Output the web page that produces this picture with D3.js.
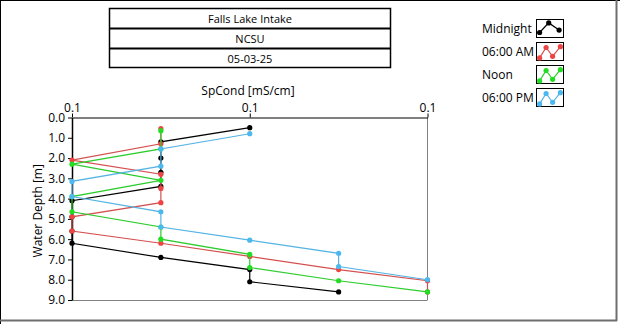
<!DOCTYPE html>
<html>
<head>
<meta charset="utf-8">
<script src="https://cdn.jsdelivr.net/npm/d3@7"></script>
<style>
  html, body { margin: 0; padding: 0; background: #fff; }
  svg { display: block; }
  text { font-family: "Open Sans", "Noto Sans", sans-serif; font-size: 11px; fill: #000; }
  .tick text { font-size: 12px; }
  .axis-title { font-size: 12px; }
</style>
</head>
<body>
<svg id="chart" width="620" height="324"></svg>
<script>
// Header lines
const headerLines = ["Falls Lake Intake", "NCSU", "05-03-25"];

// Axis settings and ticks (mS/cm, m)
const xDomain = [0.100, 0.104];
const xTicks = [0.100, 0.102, 0.104];
const yDomain = [0, 9];
const yTicks = [0, 1, 2, 3, 4, 5, 6, 7, 8, 9];

// Profiles: specific conductance and depth for each sampling time
const seriesNames = ["Midnight", "06:00 AM", "Noon", "06:00 PM"];
const seriesColors = ["#000000", "#d45050", "#2ccc2c", "#55b4e4"];
const markerColors = ["#000000", "#ee4444", "#22dd22", "#4cb8f0"];

const midnightCond = [0.102, 0.101, 0.101, 0.101, 0.101, 0.100, 0.100, 0.100, 0.100, 0.101, 0.102, 0.102, 0.103];
const midnightDepth = [0.5, 1.2, 2.0, 2.7, 3.4, 4.1, 4.9, 5.6, 6.2, 6.9, 7.5, 8.1, 8.6];

const amCond = [0.101, 0.101, 0.100, 0.101, 0.101, 0.101, 0.100, 0.100, 0.101, 0.102, 0.103, 0.104, 0.104];
const amDepth = [0.55, 1.3, 2.1, 2.8, 3.5, 4.2, 4.9, 5.6, 6.2, 6.85, 7.5, 8.05, 8.6];

const noonCond = [0.101, 0.101, 0.100, 0.101, 0.100, 0.100, 0.101, 0.101, 0.102, 0.102, 0.103, 0.104];
const noonDepth = [0.65, 1.55, 2.3, 3.1, 3.9, 4.65, 5.4, 6.0, 6.75, 7.4, 8.05, 8.6];

const pmCond = [0.102, 0.101, 0.101, 0.100, 0.100, 0.101, 0.101, 0.102, 0.103, 0.103, 0.104];
const pmDepth = [0.8, 1.55, 2.4, 3.15, 3.9, 4.65, 5.4, 6.05, 6.7, 7.35, 8.0];

const profiles = [
  { cond: midnightCond, depth: midnightDepth },
  { cond: amCond, depth: amDepth },
  { cond: noonCond, depth: noonDepth },
  { cond: pmCond, depth: pmDepth }
];

const svg = d3.select("#chart");

// Window frame
svg.append("line").attr("x1", 0).attr("x2", 620).attr("y1", 0.5).attr("y2", 0.5).attr("stroke", "#000");
svg.append("line").attr("x1", 0.5).attr("x2", 0.5).attr("y1", 0).attr("y2", 324).attr("stroke", "#000");
svg.append("line").attr("x1", 616.5).attr("x2", 616.5).attr("y1", 0).attr("y2", 321).attr("stroke", "#6e6e6e").attr("stroke-width", 2);
svg.append("line").attr("x1", 0).attr("x2", 617).attr("y1", 320.5).attr("y2", 320.5).attr("stroke", "#6e6e6e").attr("stroke-width", 2);

// Header table
const hdr = svg.append("g");
const hx0 = 109.5, hx1 = 390.5, hy0 = 8.5, rowH = 20;
hdr.append("rect").attr("x", hx0).attr("y", hy0).attr("width", hx1 - hx0).attr("height", rowH * 3 - 1)
  .attr("fill", "none").attr("stroke", "#000").attr("stroke-width", 1.5);
[1, 2].forEach(i => {
  hdr.append("line").attr("x1", hx0).attr("x2", hx1).attr("y1", hy0 + i * rowH).attr("y2", hy0 + i * rowH)
    .attr("stroke", "#000").attr("stroke-width", 2);
});
headerLines.forEach((t, i) => {
  hdr.append("text").attr("x", (hx0 + hx1) / 2).attr("y", hy0 + i * rowH + 14.5)
    .attr("text-anchor", "middle").text(t);
});

// Plot area
const margin = { left: 72, top: 117.5, right: 427.5, bottom: 300 };
const x = d3.scaleLinear().domain(xDomain).range([margin.left, margin.right]);
const y = d3.scaleLinear().domain(yDomain).range([margin.top, margin.bottom]);

// Frame: right and bottom in grey
svg.append("line").attr("x1", margin.right).attr("x2", margin.right).attr("y1", margin.top).attr("y2", margin.bottom)
  .attr("stroke", "#808080");
svg.append("line").attr("x1", margin.left).attr("x2", margin.right).attr("y1", margin.bottom + 0.5).attr("y2", margin.bottom + 0.5)
  .attr("stroke", "#808080");

// Top axis
const xAxis = d3.axisTop(x).tickValues(xTicks).tickFormat(d3.format(".1f")).tickSizeInner(4).tickSizeOuter(0).tickPadding(2);
const gx = svg.append("g").attr("transform", `translate(0,${margin.top})`).call(xAxis);
gx.select(".domain").attr("stroke", "#000");
gx.selectAll("text").attr("font-family", null).attr("font-size", null).style("fill", "#000");

// Left axis
const yAxis = d3.axisLeft(y).tickValues(yTicks).tickFormat(d3.format(".1f")).tickSizeInner(4).tickSizeOuter(0).tickPadding(3);
const gy = svg.append("g").attr("transform", `translate(${margin.left},0)`).call(yAxis);
gy.select(".domain").attr("stroke", "#000").attr("stroke-width", 1.5);
gy.selectAll("text").attr("font-family", null).attr("font-size", null).style("fill", "#000");

// Axis titles
svg.append("text").attr("class", "axis-title").attr("x", 248).attr("y", 95).attr("text-anchor", "middle").text("SpCond [mS/cm]");
svg.append("text").attr("class", "axis-title").attr("transform", `translate(42,${(margin.top + margin.bottom) / 2 + 2}) rotate(-90)`)
  .attr("text-anchor", "middle").text("Water Depth [m]");

// Profiles
const line = d3.line().x(d => x(d[0])).y(d => y(d[1]));
const plot = svg.append("g");
profiles.forEach((p, i) => {
  const pts = p.cond.map((c, k) => [c, p.depth[k]]);
  plot.append("path").datum(pts).attr("d", line)
    .attr("fill", "none").attr("stroke", seriesColors[i]).attr("stroke-width", 1.2);
  plot.selectAll(null).data(pts).enter().append("circle")
    .attr("cx", d => x(d[0])).attr("cy", d => y(d[1])).attr("r", 2.6)
    .attr("fill", markerColors[i]);
});

// Legend
const legend = svg.append("g");
const iconPts = [
  [[0.1, 0.75], [0.45, 0.15], [0.85, 0.6]],
  [[0.1, 0.9], [0.35, 0.25], [0.6, 0.8], [0.9, 0.2]]
];
seriesNames.forEach((name, i) => {
  const top = 19.5 + i * 23;
  legend.append("text").attr("class", "axis-title").attr("x", 482).attr("y", top + 13).text(name);
  legend.append("rect").attr("x", 536.5).attr("y", top).attr("width", 27).attr("height", 18)
    .attr("fill", "#fff").attr("stroke", "#000");
  const pts = (i === 0 ? iconPts[0] : iconPts[1]).map(d => [537 + d[0] * 26, top + 1 + d[1] * 16]);
  legend.append("path").attr("d", d3.line()(pts)).attr("fill", "none")
    .attr("stroke", seriesColors[i]).attr("stroke-width", 1.2);
  legend.selectAll(null).data(pts).enter().append("circle")
    .attr("cx", d => d[0]).attr("cy", d => d[1]).attr("r", 2.6).attr("fill", markerColors[i]);
});
</script>
</body>
</html>
